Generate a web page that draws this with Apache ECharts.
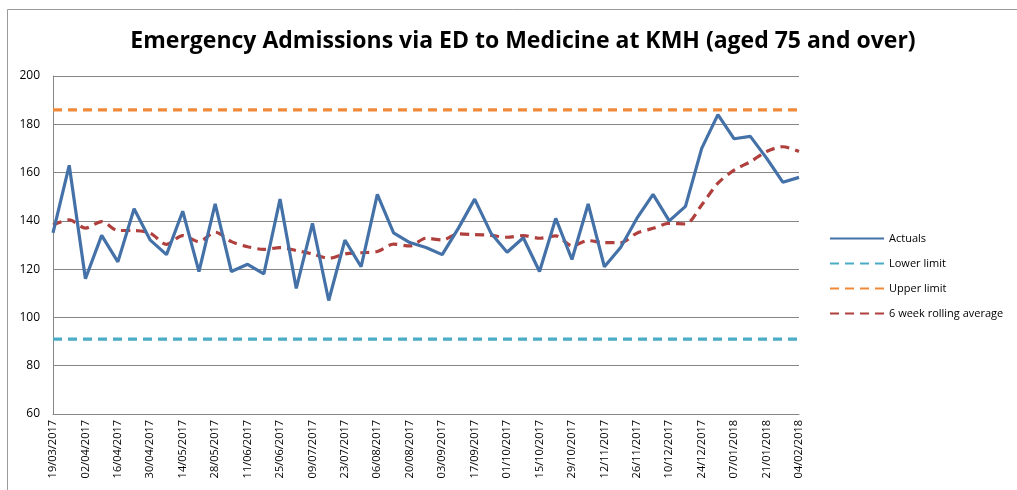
<!DOCTYPE html>
<html>
<head>
<meta charset="utf-8">
<script src="https://cdn.jsdelivr.net/npm/echarts@6/dist/echarts.min.js"></script>
<style>
html,body{margin:0;padding:0;background:#fff;}
#chart{width:1017px;height:490px;}
</style>
</head>
<body>
<div id="chart"></div>
<script>
const weeks = ["19/03/2017","26/03/2017","02/04/2017","09/04/2017","16/04/2017","23/04/2017","30/04/2017","07/05/2017","14/05/2017","21/05/2017","28/05/2017","04/06/2017","11/06/2017","18/06/2017","25/06/2017","02/07/2017","09/07/2017","16/07/2017","23/07/2017","30/07/2017","06/08/2017","13/08/2017","20/08/2017","27/08/2017","03/09/2017","10/09/2017","17/09/2017","24/09/2017","01/10/2017","08/10/2017","15/10/2017","22/10/2017","29/10/2017","05/11/2017","12/11/2017","19/11/2017","26/11/2017","03/12/2017","10/12/2017","17/12/2017","24/12/2017","31/12/2017","07/01/2018","14/01/2018","21/01/2018","28/01/2018","04/02/2018"];
const actuals = [135,163,116,134,123,145,132,126,144,119,147,119,122,118,149,112,139,107,132,121,151,135,131,129,126,137,149,135,127,133,119,141,124,147,121,129,141,151,140,146,170,184,174,175,166,156,158];
const rollingAvg = [138.3,140.4,137,139.7,136,136,134.9,130.3,133.9,131.4,135.3,131.4,129.3,128.2,128.9,127.7,126.3,124.5,126.3,126.8,127.3,130.4,129.6,132.8,132.1,134.6,134.3,134,133.2,133.9,132.8,133.8,129.7,131.8,131,131,134.9,136.9,139,138.7,146.6,155.6,161,164.5,168.7,170.7,168.7];
const lowerLimitValue = 91;
const upperLimitValue = 186;
const yTicks = [60,80,100,120,140,160,180,200];

const lowerLimit = weeks.map(() => lowerLimitValue);
const upperLimit = weeks.map(() => upperLimitValue);

const chart = echarts.init(document.getElementById('chart'));
const font = '"Open Sans", "Liberation Sans", sans-serif';
chart.setOption({
  animation: false,
  backgroundColor: '#fff',
  title: {
    text: 'Emergency Admissions via ED to Medicine at KMH (aged 75 and over)',
    left: 518, top: 25, textAlign: 'center',
    textStyle: {fontFamily: font, fontSize: 23, fontWeight: 'bold', color: '#000'}
  },
  graphic: [{
    type: 'rect', shape: {x: 7.5, y: 9.5, width: 1030, height: 500},
    style: {fill: 'none', stroke: '#9a9a9a', lineWidth: 1}, silent: true
  }],
  legend: {
    orient: 'vertical', left: 824, top: 228,
    itemWidth: 54, itemHeight: 10, itemGap: 14,
    itemStyle: {opacity: 0},
    textStyle: {fontFamily: font, fontSize: 11, color: '#000'},
    data: ['Actuals','Lower limit','Upper limit','6 week rolling average']
  },
  grid: {left: 53, right: 218, top: 76, bottom: 76, containLabel: false},
  xAxis: {
    type: 'category', data: weeks, boundaryGap: false,
    axisLine: {lineStyle: {color: '#868686'}},
    axisTick: {show: false},
    axisLabel: {interval: 1, rotate: 90, fontFamily: font, fontSize: 11, color: '#000', margin: 6}
  },
  yAxis: {
    type: 'value', min: yTicks[0], max: yTicks[yTicks.length-1], interval: 20,
    axisLine: {show: true, lineStyle: {color: '#868686'}},
    axisTick: {show: false},
    axisLabel: {fontFamily: font, fontSize: 12, color: '#000', margin: 13},
    splitLine: {lineStyle: {color: '#868686'}}
  },
  series: [
    {name: 'Actuals', type: 'line', data: actuals, symbol: 'none',
     lineStyle: {color: '#4472A8', width: 3.2}, itemStyle: {color: '#4472A8'}, z: 5},
    {name: 'Lower limit', type: 'line', data: lowerLimit, symbol: 'none',
     lineStyle: {color: '#4BACC6', width: 3.2, type: [9, 6]}, itemStyle: {color: '#4BACC6'}},
    {name: 'Upper limit', type: 'line', data: upperLimit, symbol: 'none',
     lineStyle: {color: '#F08A3A', width: 3.2, type: [9, 6]}, itemStyle: {color: '#F08A3A'}},
    {name: '6 week rolling average', type: 'line', data: rollingAvg, symbol: 'none', smooth: 0.3,
     lineStyle: {color: '#B0403D', width: 3.2, type: [9, 6]}, itemStyle: {color: '#B0403D'}, z: 4}
  ]
});
</script>
</body>
</html>
